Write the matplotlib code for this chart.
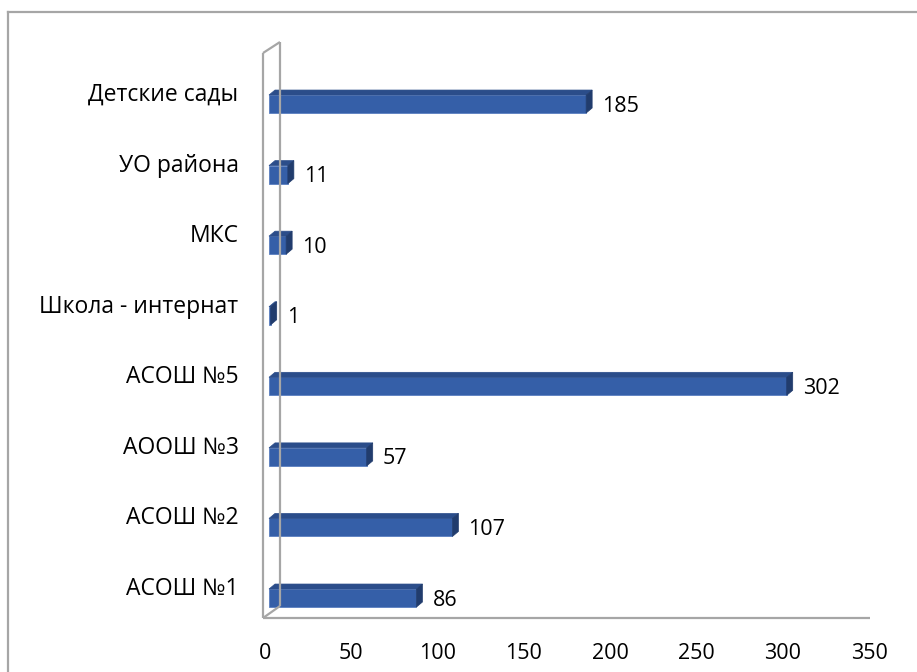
import matplotlib
matplotlib.use('Agg')
import matplotlib.pyplot as plt
from matplotlib.patches import Polygon
from matplotlib.lines import Line2D

categories = ['АСОШ №1', 'АСОШ №2', 'АООШ №3', 'АСОШ №5',
              'Школа - интернат', 'МКС', 'УО района', 'Детские сады']
values = [86, 107, 57, 302, 1, 10, 11, 185]
xticks = [0, 50, 100, 150, 200, 250, 300, 350]

W, H = 917, 672
plt.rcParams['font.family'] = ['Open Sans', 'DejaVu Sans']
FS_NUM = 15.5
FS_CAT = 16.5

fig = plt.figure(figsize=(W / 100, H / 100), dpi=100)

# outer frame: only top and left edges are visible in the picture
fig.add_artist(Line2D([8 / W, 8 / W], [0, 1 - 12 / H], color='#a6a6a6', lw=1.6))
fig.add_artist(Line2D([8 / W, 1], [1 - 12 / H, 1 - 12 / H], color='#a6a6a6', lw=1.6))

# axes placed so that 0 -> x=265px, 350 -> x=869px
left, right = 265, 869
bottom, top = 618, 42
ax = fig.add_axes([left / W, 1 - bottom / H, (right - left) / W, (bottom - top) / H])
ax.set_xlim(0, 350)
ax.set_ylim(-0.283, 7.879)
for s in ax.spines.values():
    s.set_visible(False)

px_x = 350 / (right - left)          # data units per pixel, x
px_y = (7.879 + 0.283) / (bottom - top)  # data units per pixel, y

# back wall and floor (3D frame)
gray = '#a6a6a6'
y_floor = -0.283
wall_front_x = -2 * px_x
wall_back_x = 15 * px_x
kw = dict(color=gray, lw=1.6, clip_on=False, solid_capstyle='butt')
ax.plot([wall_front_x, wall_front_x], [y_floor, 7.879 - 11 * px_y], **kw)
ax.plot([wall_back_x, wall_back_x], [y_floor + 12 * px_y, 7.879], **kw)
ax.plot([wall_front_x, wall_back_x], [7.879 - 11 * px_y, 7.879], **kw)
ax.plot([wall_front_x, wall_back_x], [y_floor, y_floor + 12 * px_y], **kw)
ax.plot([wall_front_x, 350 + 1 * px_x], [y_floor, y_floor], **kw)

# 3D bars
front_c = '#355fa8'
top_c = '#2b4d8a'
side_c = '#213c6d'
edge_c = '#5a7fc0'
h = 18 * px_y
dx = 6 * px_x
dy = 5 * px_y
x0 = 4 * px_x
for i, v in enumerate(values):
    y0 = i - h / 2
    x1 = x0 + v * (right - left - 4) / (right - left)
    ax.add_patch(Polygon([(x0, y0), (x1, y0), (x1, y0 + h), (x0, y0 + h)],
                         closed=True, fc=front_c, ec=edge_c, lw=0.6, clip_on=False))
    ax.add_patch(Polygon([(x0, y0 + h), (x1, y0 + h), (x1 + dx, y0 + h + dy), (x0 + dx, y0 + h + dy)],
                         closed=True, fc=top_c, ec=top_c, lw=0.5, clip_on=False))
    ax.add_patch(Polygon([(x1, y0), (x1 + dx, y0 + dy), (x1 + dx, y0 + h + dy), (x1, y0 + h)],
                         closed=True, fc=side_c, ec=side_c, lw=0.5, clip_on=False))
    ax.annotate(str(v), (x1 + dx, i), xytext=(10, -2), textcoords='offset pixels',
                ha='left', va='center', fontsize=FS_NUM, color='#000000')

ax.set_xticks(xticks)
ax.set_xticklabels([str(t) for t in xticks], fontsize=FS_NUM)
ax.tick_params(axis='x', length=0, pad=18)

ax.set_yticks([i + 12 * px_y for i in range(len(categories))])
ax.set_yticklabels(categories, fontsize=FS_CAT)
ax.tick_params(axis='y', length=0, pad=19)

fig.savefig('out.png', dpi=100)
